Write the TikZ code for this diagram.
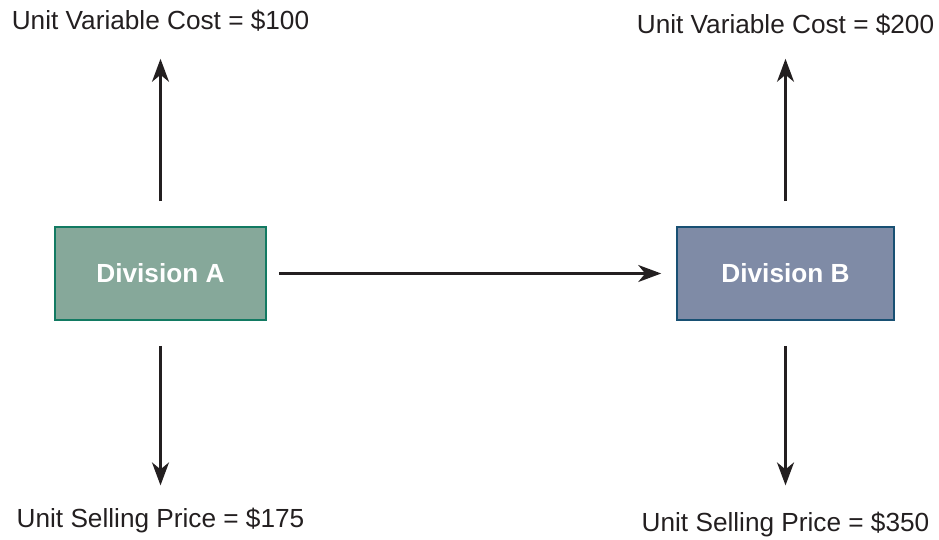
\documentclass[tikz,border=0pt]{standalone}
\usepackage{fontspec}
\setmainfont{Liberation Sans}
\usetikzlibrary{arrows.meta, positioning}
\definecolor{divAfill}{RGB}{134,168,154}
\definecolor{divAdraw}{RGB}{18,122,98}
\definecolor{divBfill}{RGB}{127,139,166}
\definecolor{divBdraw}{RGB}{24,80,115}
\definecolor{ink}{RGB}{35,31,32}
\tikzstyle{division} = [rectangle, minimum height=93pt, inner sep=0pt, line width=1.6pt, text=white, font=\fontsize{26.2}{30}\selectfont\bfseries]
\tikzstyle{amount} = [inner sep=0pt, text=ink, font=\fontsize{26.2}{30}\selectfont]
\tikzstyle{myarrow} = [-{Stealth[length=23pt, width=17pt, inset=7pt]}, line width=2.5pt, draw=ink]

\begin{document}
\begin{tikzpicture}[x=1pt, y=-1pt]
\useasboundingbox (0,0) rectangle (939,539);
% the two divisions
\node(divA)[division, draw=divAdraw, fill=divAfill, minimum width=211pt] at (160.5,273.5) {Division A};
\node(divB)[division, draw=divBdraw, fill=divBfill, minimum width=217pt] at (785.5,273.5) {Division B};
% cost and price labels
\node(costA)[amount] at (160.5,21) {Unit Variable Cost = \$100};
\node(costB)[amount] at (785.5,25) {Unit Variable Cost = \$200};
\node(priceA)[amount] at (160.5,521) {Unit Selling Price = \$175};
\node(priceB)[amount] at (785.5,525) {Unit Selling Price = \$350};
% transfer and the four outer arrows
\draw [myarrow, shorten <=12pt, shorten >=15pt] (divA) -- (divB);
\draw [myarrow, shorten <=25pt, shorten >=27pt] (divA) -- (costA);
\draw [myarrow, shorten <=25pt, shorten >=23pt] (divA) -- (priceA);
\draw [myarrow, shorten <=25pt, shorten >=23pt] (divB) -- (costB);
\draw [myarrow, shorten <=25pt, shorten >=27pt] (divB) -- (priceB);
\end{tikzpicture}
\end{document}
